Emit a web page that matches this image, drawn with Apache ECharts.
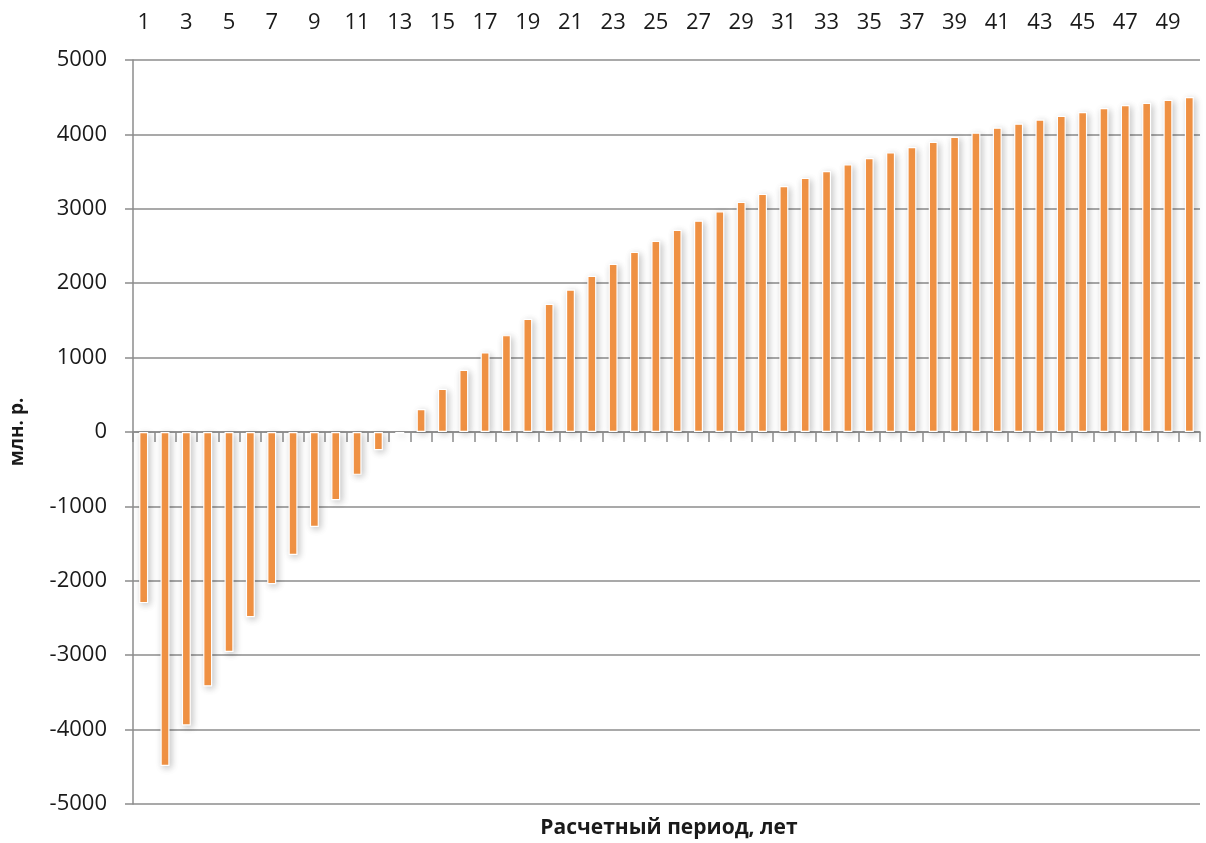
<!DOCTYPE html>
<html>
<head>
<meta charset="utf-8">
<script src="https://cdn.jsdelivr.net/npm/echarts@6/dist/echarts.min.js"></script>
<style>html,body{margin:0;padding:0;background:#fff;}#c{width:1206px;height:843px;}</style>
</head>
<body>
<div id="c"></div>
<script>
const categories = Array.from({length: 50}, (_, i) => String(i + 1));
const values = [
  -2300, -4490, -3945, -3420, -2957, -2490, -2046, -1653, -1277, -916,
  -576, -245, -20, 309, 582, 837, 1070, 1302, 1522, 1723,
  1915, 2099, 2260, 2421, 2569, 2717, 2842, 2967, 3093, 3200,
  3307, 3415, 3509, 3597, 3683, 3758, 3830, 3900, 3968, 4025,
  4092, 4146, 4200, 4250, 4300, 4354, 4395, 4425, 4466, 4502
];
const yTicks = { min: -5000, max: 5000, interval: 1000 };
const yName = 'млн. р.';
const xName = 'Расчетный период, лет';

const chart = echarts.init(document.getElementById('c'));
const font = '"Open Sans", "DejaVu Sans", sans-serif';
chart.setOption({
  backgroundColor: '#fff',
  animation: false,
  title: {
    text: xName, left: 664, top: 813, textAlign: 'center',
    textStyle: { fontFamily: font, fontSize: 21, fontWeight: 'bold', color: '#1a1a1a' }
  },
  grid: { left: 128.5, right: 6, top: 60, bottom: 39 },
  xAxis: [
    {
      type: 'category', data: categories, position: 'top',
      axisLine: { show: false, onZero: false }, axisTick: { show: false },
      axisLabel: { interval: 1, margin: 26, fontFamily: font, fontSize: 22, color: '#1a1a1a' }
    },
    {
      type: 'category', data: categories, position: 'bottom',
      axisLine: { show: true, onZero: true, onZeroAxisIndex: 0, lineStyle: { color: '#8c8c8c', width: 1.5 } },
      axisTick: { show: true, interval: 0, length: 10, lineStyle: { color: '#8c8c8c', width: 1.5 } },
      axisLabel: { show: false }
    }
  ],
  yAxis: {
    type: 'value', min: yTicks.min, max: yTicks.max, interval: yTicks.interval,
    name: yName, nameLocation: 'middle', nameGap: 106, nameRotate: 90,
    nameTextStyle: { fontFamily: font, fontSize: 19, fontWeight: 'bold', color: '#1a1a1a' },
    axisLine: { show: true, onZero: false, lineStyle: { color: '#8c8c8c', width: 1.5 } },
    axisTick: { show: true, length: 8, lineStyle: { color: '#8c8c8c', width: 1.5 } },
    axisLabel: { margin: 26, fontFamily: font, fontSize: 22, color: '#1a1a1a', formatter: v => String(v) },
    splitLine: { show: true, lineStyle: { color: '#8c8c8c', width: 1.5 } }
  },
  series: [{
    type: 'bar', data: values, xAxisIndex: 1, barWidth: 9,
    itemStyle: {
      color: '#F79646', borderColor: '#ffffff', borderWidth: 1.2,
      shadowColor: 'rgba(0,0,0,0.22)', shadowBlur: 7, shadowOffsetX: 2, shadowOffsetY: 2
    }
  }]
});
</script>
</body>
</html>
